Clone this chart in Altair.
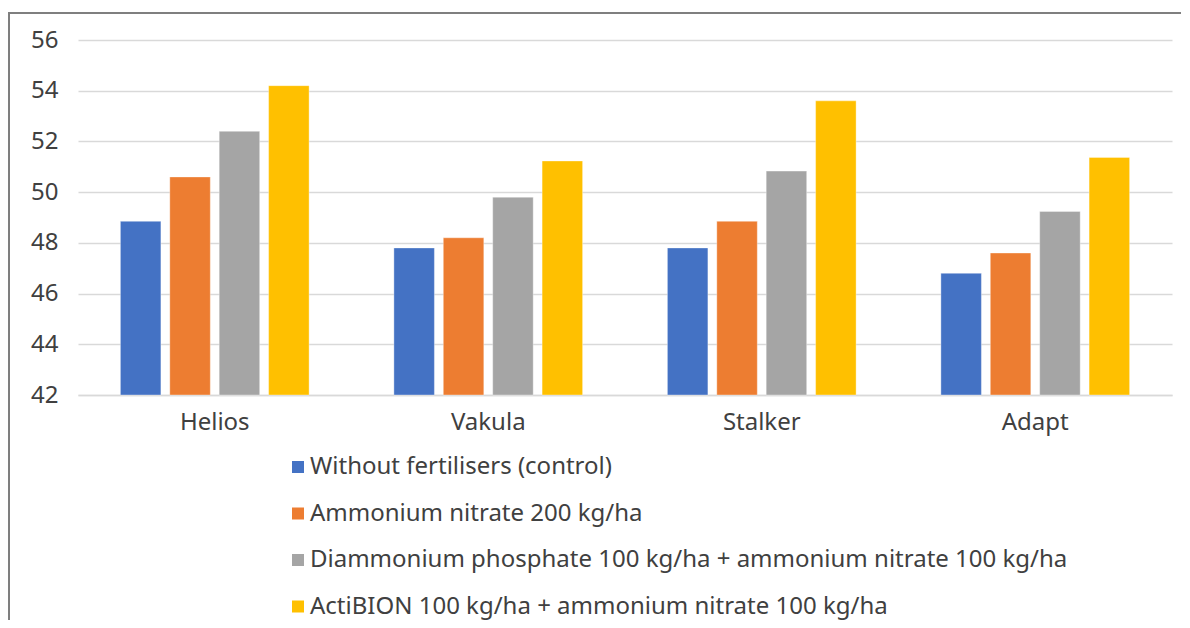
import altair as alt
import pandas as pd

varieties = ["Helios", "Vakula", "Stalker", "Adapt"]
treatments = [
    "Without fertilisers (control)",
    "Ammonium nitrate 200 kg/ha",
    "Diammonium phosphate 100 kg/ha + ammonium nitrate 100 kg/ha",
    "ActiBION 100 kg/ha + ammonium nitrate 100 kg/ha",
]
control = [48.85, 47.8, 47.8, 46.8]
ammonium_nitrate = [50.6, 48.2, 48.85, 47.6]
diammonium = [52.4, 49.8, 50.83, 49.24]
actibion = [54.2, 51.23, 53.6, 51.37]
colors = ["#4472C4", "#ED7D31", "#A5A5A5", "#FFC000"]

series = [control, ammonium_nitrate, diammonium, actibion]
rows = []
for t, vals in zip(treatments, series):
    for v, val in zip(varieties, vals):
        rows.append({"variety": v, "treatment": t, "value": val})
df = pd.DataFrame(rows)

FONT = "Noto Sans"
TXT = "#404040"

bars = alt.Chart(df).mark_bar(stroke="white", strokeWidth=0.6, strokeOpacity=0.6).encode(
    x=alt.X("variety:N", sort=varieties, title=None,
            scale=alt.Scale(paddingInner=0.31, paddingOuter=0.155),
            axis=alt.Axis(labelAngle=0, labelFontSize=24, labelFont=FONT, labelColor=TXT,
                          ticks=False, domain=True, domainColor="#d9d9d9", domainWidth=1.5,
                          labelPadding=15, grid=False)),
    xOffset=alt.XOffset("treatment:N", sort=treatments,
                        scale=alt.Scale(paddingInner=0.18, paddingOuter=0)),
    y=alt.Y("value:Q", title=None,
            scale=alt.Scale(domain=[42, 56], nice=False, zero=False),
            axis=alt.Axis(values=[42, 44, 46, 48, 50, 52, 54, 56], labelFontSize=24,
                          labelFont=FONT, labelColor=TXT, ticks=False, domain=False,
                          labelPadding=20, gridColor="#d9d9d9", gridWidth=1.5,
                          minExtent=60, maxExtent=60)),
    y2=alt.Y2(datum=42),
    color=alt.Color("treatment:N", sort=treatments, title=None,
                    scale=alt.Scale(domain=treatments, range=colors),
                    legend=alt.Legend(orient="none", legendX=208, legendY=415,
                                      direction="vertical", symbolType="square",
                                      symbolSize=144, symbolStrokeWidth=0,
                                      labelFontSize=24, labelFont=FONT, labelColor=TXT,
                                      labelOffset=0, rowPadding=22.5, labelLimit=1000)),
)

frame_top = alt.Chart(df).mark_rect(color="#7f7f7f").encode(
    x=alt.value(-70), x2=alt.value(1103), y=alt.value(-28), y2=alt.value(-26)
)
frame_left = alt.Chart(df).mark_rect(color="#7f7f7f").encode(
    x=alt.value(-70), x2=alt.value(-68.5), y=alt.value(-28), y2=alt.value(580)
)

chart = alt.layer(bars, frame_top, frame_left).properties(
    width=1094, height=355, background="white",
    padding={"left": 0, "top": 4, "right": 0, "bottom": 0},
).configure_view(strokeWidth=0)

chart.save("out.html", embed_options={"renderer": "svg", "actions": False})
